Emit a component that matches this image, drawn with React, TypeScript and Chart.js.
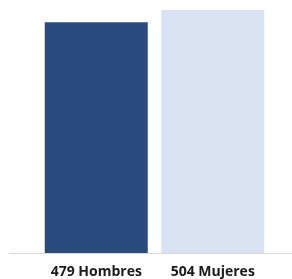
import React, { useEffect, useRef } from "react";
import { Chart, registerables } from "chart.js";

Chart.register(...registerables);

const categories = ["479 Hombres", "504 Mujeres"];
const values = [479, 504];
const colors = ["#2B4A7D", "#D9E2F3"];

const baselinePlugin = {
  id: "baseline",
  afterDatasetsDraw(chart: any) {
    const { ctx, chartArea } = chart;
    ctx.save();
    ctx.strokeStyle = "#D9D9D9";
    ctx.lineWidth = 1;
    ctx.beginPath();
    ctx.moveTo(9, chartArea.bottom + 0.5);
    ctx.lineTo(chart.width, chartArea.bottom + 0.5);
    ctx.stroke();
    ctx.restore();
  },
};

export default function App() {
  const ref = useRef<HTMLCanvasElement>(null);
  useEffect(() => {
    const chart = new Chart(ref.current!, {
      type: "bar",
      data: {
        labels: categories,
        datasets: [
          {
            data: values,
            backgroundColor: colors,
            borderWidth: 0,
            categoryPercentage: 1,
            barPercentage: 0.884,
          },
        ],
      },
      options: {
        animation: false,
        responsive: false,
        maintainAspectRatio: false,
        layout: { padding: { left: 38, right: 21, top: 0, bottom: 0 } },
        plugins: { legend: { display: false }, tooltip: { enabled: false } },
        scales: {
          y: { display: false, min: 0, max: 525 },
          x: {
            grid: { display: false, drawTicks: false },
            border: { display: false },
            afterFit: (scale: any) => {
              scale.height = 26;
            },
            ticks: {
              color: "#1A1A1A",
              font: { family: "Open Sans", size: 14, weight: "bold" },
              padding: 11,
              maxRotation: 0,
            },
          },
        },
      },
      plugins: [baselinePlugin],
    });
    return () => chart.destroy();
  }, []);
  return (
    <div style={{ position: "absolute", left: 0, top: 0, width: 292, height: 279 }}>
      <canvas ref={ref} width={292} height={279} />
    </div>
  );
}
